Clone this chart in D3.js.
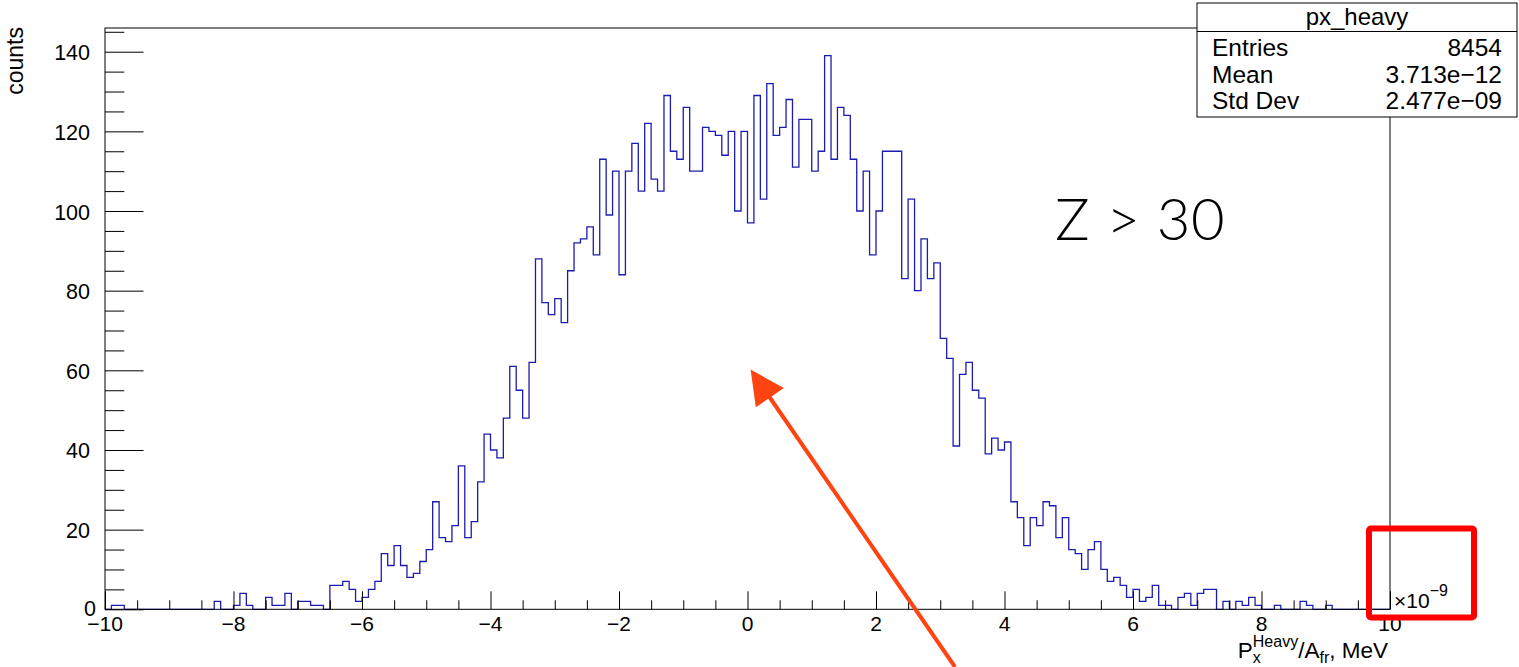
<!DOCTYPE html>
<html>
<head>
<meta charset="utf-8">
<script src="https://cdn.jsdelivr.net/npm/d3@7"></script>
<style>
  body { margin: 0; background: #fff; }
  text { font-family: "Liberation Sans", Arial, Helvetica, sans-serif; }
</style>
</head>
<body>
<div id="chart"></div>
<script>
// Histogram contents, 200 bins from -10 to 10 (x 1e-9)
const binCounts = [
  0, 1, 1, 0, 0, 0, 0, 0, 0, 0,   0, 0, 0, 0, 0, 0, 0, 2, 0, 0,
  1, 4, 1, 0, 0, 3, 1, 1, 4, 0,   2, 2, 1, 1, 0, 6, 6, 7, 5, 2,
  3, 5, 7, 14, 11, 16, 11, 8, 9, 12,   15, 27, 18, 17, 21, 36, 18, 22, 32, 44,
  40, 38, 48, 61, 55, 48, 62, 88, 77, 74,   78, 72, 85, 92, 93, 96, 89, 113, 99, 110,
  84, 110, 117, 105, 122, 108, 105, 129, 115, 113,   126, 110, 110, 121, 120, 119, 114, 120, 100, 120,
  97, 129, 103, 132, 119, 121, 128, 111, 123, 123,   110, 115, 139, 113, 126, 124, 113, 100, 110, 89,
  100, 115, 115, 115, 83, 103, 80, 93, 83, 87,   68, 63, 41, 59, 62, 55, 53, 39, 43, 40,
  42, 27, 23, 16, 23, 21, 27, 26, 18, 23,   15, 14, 10, 15, 17, 10, 7, 8, 6, 3,
  5, 2, 3, 6, 1, 1, 0, 3, 4, 1,   4, 5, 5, 0, 2, 0, 2, 1, 3, 1,
  0, 0, 1, 0, 0, 0, 2, 1, 0, 0,   1, 0, 0, 0, 0, 0, 0, 0, 0, 0
];
const xDomain = [-10, 10];
const yDomainMax = 145.95;
const xTickValues = [-10, -8, -6, -4, -2, 0, 2, 4, 6, 8, 10];
const yTickValues = [0, 20, 40, 60, 80, 100, 120, 140];
const statsTitle = "px_heavy";
const statsLabels = ["Entries", "Mean", "Std Dev"];
const statsValues = ["8454", "3.713e\u221212", "2.477e\u221209"];

// Kích thước
const W = 1519, H = 667;
const margin = { top: 28, left: 105 },
      width = 1285,
      height = 581.3;

const svg = d3.select("#chart")
  .append("svg")
    .attr("width", W)
    .attr("height", H);

const g = svg.append("g")
  .attr("transform", `translate(${margin.left},${margin.top})`);

const x = d3.scaleLinear().domain(xDomain).range([0, width]);
const y = d3.scaleLinear().domain([0, yDomainMax]).range([height, 0]);

// Histogram outline
const binW = (xDomain[1] - xDomain[0]) / binCounts.length;
const pts = [[xDomain[0], 0]];
binCounts.forEach((c, i) => pts.push([xDomain[0] + i * binW, c]));
pts.push([xDomain[1], 0]);

g.append("path")
  .datum(pts)
  .attr("fill", "none")
  .attr("stroke", "#1c1cb0")
  .attr("stroke-width", 1.3)
  .attr("d", d3.line()
    .x(d => x(d[0]))
    .y(d => y(d[1]))
    .curve(d3.curveStepAfter));

// Frame
g.append("rect")
  .attr("width", width)
  .attr("height", height)
  .attr("fill", "none")
  .attr("stroke", "#000")
  .attr("stroke-width", 1);

// Trục X: ticks pointing up
const xAxis = g.append("g").attr("transform", `translate(0,${height})`);
xAxis.call(d3.axisBottom(x)
    .tickValues(d3.range(-10, 10.01, 0.5))
    .tickSize(-9)
    .tickFormat(""))
  .call(a => a.select(".domain").remove());
xAxis.selectAll(".tick line")
  .filter(d => Math.abs(d % 2) < 1e-6)
  .attr("y2", -18);
xAxis.selectAll(".tick line").attr("stroke", "#000");

g.selectAll("text.xlab")
  .data(xTickValues)
  .enter()
  .append("text")
    .attr("class", "xlab")
    .attr("x", d => x(d))
    .attr("y", height + 22)
    .attr("text-anchor", "middle")
    .style("font-size", "21px")
    .text(d => d3.format("")(d).replace("-", "\u2212"));

// Trục Y: ticks pointing right
const yAxis = g.append("g");
yAxis.call(d3.axisLeft(y)
    .tickValues(d3.range(0, 146, 5))
    .tickSize(-19.3)
    .tickFormat(""))
  .call(a => a.select(".domain").remove());
yAxis.selectAll(".tick line")
  .filter(d => d % 20 === 0)
  .attr("x2", 38.5);
yAxis.selectAll(".tick line").attr("stroke", "#000");

// label "0" sits a bit further right in the original
g.selectAll("text.ylab")
  .data(yTickValues)
  .enter()
  .append("text")
    .attr("class", "ylab")
    .attr("x", d => d === 0 ? -9 : -15)
    .attr("y", d => y(d) + (d === 0 ? 6.5 : 8.5))
    .attr("text-anchor", "end")
    .style("font-size", "21.5px")
    .text(d => d);

// Axis titles
svg.append("text")
  .attr("transform", "translate(23,27) rotate(-90)")
  .attr("text-anchor", "end")
  .style("font-size", "23px")
  .text("counts");

const xt = svg.append("text")
  .attr("x", 1388)
  .attr("y", 658)
  .attr("text-anchor", "end")
  .style("font-size", "22.5px");
xt.append("tspan").text("P");
xt.append("tspan").attr("dy", 5).style("font-size", "16px").text("x");
xt.append("tspan").attr("dx", -8).attr("dy", -16).style("font-size", "16px").text("Heavy");
xt.append("tspan").attr("dy", 11).text("/A");
xt.append("tspan").attr("dy", 5).style("font-size", "16px").text("fr");
xt.append("tspan").attr("dy", -5).text(", MeV");

// ×10^-9 exponent label
const ex = svg.append("text")
  .attr("x", 1394)
  .attr("y", 608)
  .style("font-size", "21px");
ex.append("tspan").text("\u00d710");
ex.append("tspan").attr("dy", -12).style("font-size", "16px").text("\u22129");

// Stats box
const sb = svg.append("g");
sb.append("rect")
  .attr("x", 1197).attr("y", 3)
  .attr("width", 320).attr("height", 114)
  .attr("fill", "#fff")
  .attr("stroke", "#000")
  .attr("stroke-width", 1);
sb.append("line")
  .attr("x1", 1197).attr("x2", 1517)
  .attr("y1", 31.5).attr("y2", 31.5)
  .attr("stroke", "#000");
sb.append("text")
  .attr("x", 1357).attr("y", 25)
  .attr("text-anchor", "middle")
  .style("font-size", "24px")
  .text(statsTitle);
sb.selectAll("text.sl")
  .data(statsLabels)
  .enter()
  .append("text")
    .attr("class", "sl")
    .attr("x", 1212)
    .attr("y", (d, i) => 56 + i * 26.5)
    .style("font-size", "24.5px")
    .text(d => d);
sb.selectAll("text.sv")
  .data(statsValues)
  .enter()
  .append("text")
    .attr("class", "sv")
    .attr("x", 1502)
    .attr("y", (d, i) => 56 + i * 26.5)
    .attr("text-anchor", "end")
    .style("font-size", "24.5px")
    .text(d => d);

// Annotation text
svg.append("text")
  .attr("x", 1055)
  .attr("y", 240)
  .style("font-family", "Lato, 'Open Sans', sans-serif")
  .style("font-weight", 300)
  .style("font-size", "58px")
  .style("letter-spacing", "0.5px")
  .text("Z > 30");

// Red box
svg.append("rect")
  .attr("x", 1369).attr("y", 528.5)
  .attr("width", 105).attr("height", 89)
  .attr("rx", 2)
  .attr("fill", "none")
  .attr("stroke", "#ff0000")
  .attr("stroke-width", 6);

// Orange arrow
svg.append("defs").append("marker")
  .attr("id", "ah")
  .attr("viewBox", "0 0 10 10")
  .attr("refX", 2).attr("refY", 5)
  .attr("markerWidth", 9.5).attr("markerHeight", 8.5)
  .attr("orient", "auto")
  .append("path")
    .attr("d", "M0,0 L10,5 L0,10 z")
    .attr("fill", "#ff4411");
svg.append("line")
  .attr("x1", 955).attr("y1", 667)
  .attr("x2", 766).attr("y2", 392)
  .attr("stroke", "#ff4411")
  .attr("stroke-width", 4)
  .attr("marker-end", "url(#ah)");
</script>
</body>
</html>
